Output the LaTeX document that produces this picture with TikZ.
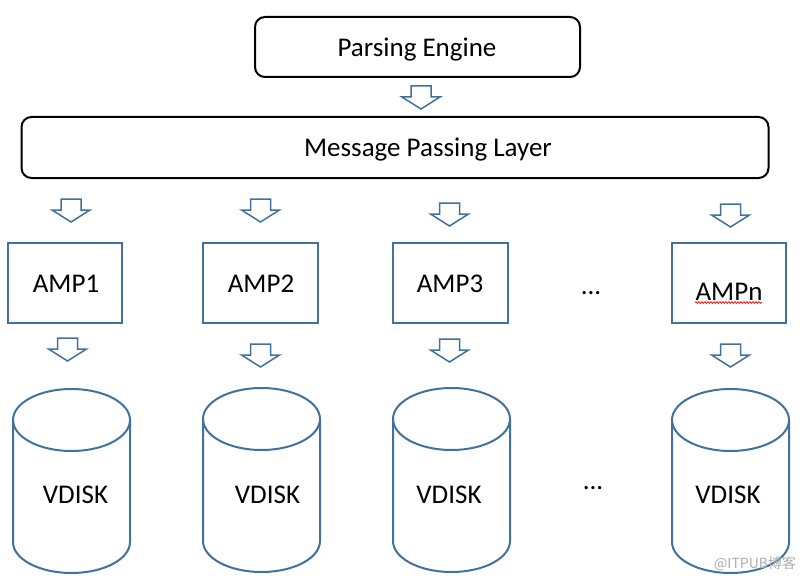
\documentclass[tikz,border=0pt]{standalone}
\usepackage{fontspec}
\setmainfont{Carlito}
\newfontfamily\cjkfont{Noto Sans CJK SC}
\usetikzlibrary{decorations.pathmorphing}
\definecolor{dblue}{RGB}{65,113,156}
\tikzset{
  rbox/.style={draw=black, line width=2pt, rounded corners=10pt, inner sep=0pt},
  ampbox/.style={draw=dblue, line width=2pt, inner sep=0pt},
  lbl/.style={font=\fontsize{27}{32}\selectfont, anchor=base, inner sep=0pt},
  barrow/.pic={\draw[dblue, line width=1.5pt, fill=white, line join=miter]
     (-10,0) -- (10,0) -- (10,11) -- (19,11) -- (0,23) -- (-19,11) -- (-10,11) -- cycle;},
  vdisk/.pic={
     \draw[dblue, line width=2pt] (0,31) ellipse [x radius=58.5, y radius=31];
     \draw[dblue, line width=2pt] (-58.5,31) -- (-58.5,153)
        .. controls (-58.5,170.1) and (-32.3,184) .. (0,184)
        .. controls (32.3,184) and (58.5,170.1) .. (58.5,153) -- (58.5,31);}
}
\begin{document}
\begin{tikzpicture}[x=1pt,y=-1pt]
\useasboundingbox (0,0) rectangle (804,578);
% top boxes
\node[rbox, minimum width=325, minimum height=60] (pe) at (417.5,47) {};
\node[lbl] (pet) at (417,57) {Parsing Engine};
\node[rbox, minimum width=747, minimum height=61] (mpl) at (395,147.5) {};
\node[lbl] (mplt) at (428,157) {Message Passing Layer};
% block arrows
\pic at (421,86) {barrow};
\pic at (71,199) {barrow};
\pic at (260.5,199) {barrow};
\pic at (449.5,203) {barrow};
\pic at (730.5,204) {barrow};
\pic at (67.5,338) {barrow};
\pic at (260.5,344) {barrow};
\pic at (449.5,339) {barrow};
\pic at (730.5,344) {barrow};
% AMP boxes
\node[ampbox, minimum width=114, minimum height=80] (amp1) at (64.5,283) {};
\node[ampbox, minimum width=115, minimum height=80] (amp2) at (260.5,283) {};
\node[ampbox, minimum width=115, minimum height=80] (amp3) at (450.5,283) {};
\node[ampbox, minimum width=114, minimum height=80] (ampn) at (729,283) {};
\node[lbl] (amp1t) at (66,292) {AMP1};
\node[lbl] (amp2t) at (261,292) {AMP2};
\node[lbl] (amp3t) at (450,292) {AMP3};
\node[lbl] (ampnt) at (729,300) {AMPn};
\coordinate (sqa) at (695,302.5);
\coordinate (sqb) at (762,302.5);
\draw[red, line width=0.7pt, decorate, decoration={snake, amplitude=0.9pt, segment length=3pt}] (sqa) -- (sqb);
\node[lbl] (dots1) at (591,294) {...};
% cylinders
\pic at (71.5,389) {vdisk};
\pic at (261.5,388) {vdisk};
\pic at (451.5,388) {vdisk};
\pic at (730.5,389) {vdisk};
\node[lbl] (vd1) at (75.5,503) {VDISK};
\node[lbl] (vd2) at (267.5,503) {VDISK};
\node[lbl] (vd3) at (449,503) {VDISK};
\node[lbl] (vd4) at (728,503) {VDISK};
\node[lbl] (dots2) at (593,489) {...};
% watermark
\node[anchor=base west, inner sep=0pt, text=black!32, font=\cjkfont\fontsize{14}{16}\selectfont] (wm) at (714,568) {@ITPUB博客};
\end{tikzpicture}
\end{document}
